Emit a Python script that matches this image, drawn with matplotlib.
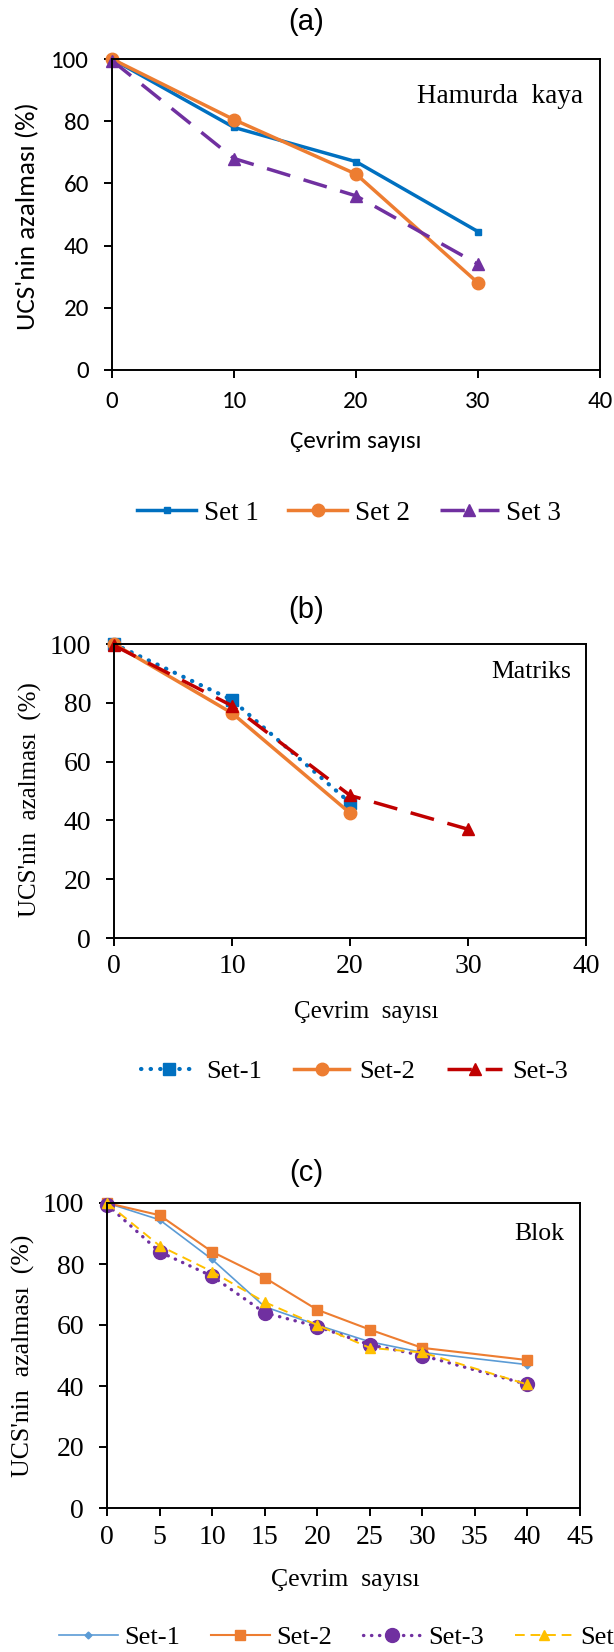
import matplotlib
matplotlib.use("Agg")
import matplotlib.pyplot as plt

# Panel (a) - Hamurda kaya
cycles_a = [0, 10, 20, 30]
set1_a = [100, 78, 67, 44.5]
set2_a = [100, 80.5, 63, 28]
set3_a = [99.5, 68, 56, 34]

# Panel (b) - Matriks
cycles_b12 = [0, 10, 20]
cycles_b3 = [0, 10, 20, 30]
set1_b = [100, 81, 46]
set2_b = [100, 76.5, 42.5]
set3_b = [99.5, 79, 48.5, 37]

# Panel (c) - Blok
cycles_c = [0, 5, 10, 15, 20, 25, 30, 40]
set1_c = [100, 94.5, 81.5, 66, 60, 54.5, 51, 47]
set2_c = [100, 96, 84, 75.5, 65, 58.5, 52.5, 48.5]
set3_c = [99.5, 84, 76, 64, 59.5, 53.5, 50, 40.5]
set4_c = [100, 86, 77.5, 67.5, 60, 52.5, 51, 40.5]

W, H = 614, 1652
fig = plt.figure(figsize=(W / 100, H / 100), dpi=100)

SANS = ["Carlito", "Lato", "DejaVu Sans"]   # Calibri look-alike if present
SERIF = ["Liberation Serif", "DejaVu Serif"]
ARIAL = ["Liberation Sans", "DejaVu Sans"]

tick_fonts = []  # (axes, family) pairs, applied again after the first draw


def ax_at(left, top, right, bottom):
    # pixel box -> figure fraction
    return fig.add_axes([left / W, 1 - bottom / H, (right - left) / W, (bottom - top) / H])


def px_text(x, y, s, **kw):
    # text centred on a pixel position of the figure
    return fig.text(x / W, 1 - y / H, s, ha="center", va="center", **kw)


def style_axes(ax, xmax, xstep, font, size, xpad):
    ax.set_ylim(0, 100)
    ax.set_xlim(0, xmax)
    ax.set_yticks(range(0, 101, 20))
    ax.set_xticks(range(0, xmax + 1, xstep))
    for s in ax.spines.values():
        s.set_linewidth(1.4)
    ax.tick_params(direction="out", length=5.5, width=1.4, labelsize=size,
                   labelfontfamily=font)
    ax.tick_params(axis="y", pad=11)
    ax.tick_params(axis="x", pad=xpad)
    tick_fonts.append((ax, font))


def add_legend(ax, x0, y0, ncol, size, hl, htp, cs):
    fig.legend(*ax.get_legend_handles_labels(), loc="center left",
               bbox_to_anchor=(x0 / W, 1 - y0 / H), ncol=ncol, frameon=False,
               prop={"family": SERIF, "size": size}, handlelength=hl,
               handletextpad=htp, columnspacing=cs, borderpad=0, borderaxespad=0,
               numpoints=1)


# ---------- (a) ----------
ax = ax_at(112, 59, 600, 370)
ax.plot(cycles_a, set1_a, color="#0070C0", lw=2.5, marker="s", ms=4.5, label="Set 1", clip_on=False)
ax.plot(cycles_a, set2_a, color="#ED7D31", lw=2.5, marker="o", ms=9, label="Set 2", clip_on=False)
ax.plot(cycles_a, set3_a, color="#7030A0", lw=2.5, marker="^", ms=9, dashes=(7, 4), label="Set 3", clip_on=False)
style_axes(ax, 40, 10, SANS, 18, 9.5)
px_text(356, 441, "Çevrim sayısı", fontfamily=SANS, fontsize=18)
px_text(27.5, 216, "UCS'nin azalması (%)", fontfamily=SANS, fontsize=19.5, rotation=90)
ax.text(0.965, 0.879, "Hamurda  kaya", transform=ax.transAxes, ha="right", va="center",
        fontfamily=SERIF, fontsize=19.5)
px_text(306, 22, "(a)", fontfamily=ARIAL, fontsize=21)
add_legend(ax, 137, 513, 3, 19.5, 2.18, 0.28, 1.1)

# ---------- (b) ----------
ax = ax_at(114, 644, 586, 938)
ax.plot(cycles_b12, set1_b, color="#0070C0", lw=3, marker="s", ms=8, linestyle=(0, (0.1, 2.2)),
        dash_capstyle="round", label="Set-1", clip_on=False)
ax.plot(cycles_b12, set2_b, color="#ED7D31", lw=2.5, marker="o", ms=9, label="Set-2", clip_on=False)
ax.plot(cycles_b3, set3_b, color="#C00000", lw=2.5, marker="^", ms=9, dashes=(7, 4), label="Set-3", clip_on=False)
style_axes(ax, 40, 10, SERIF, 20, 6)
px_text(366, 1012, "Çevrim  sayısı", fontfamily=SERIF, fontsize=18)
px_text(30, 800, "UCS'nin  azalması  (%)", fontfamily=SERIF, fontsize=18, rotation=90)
ax.text(0.969, 0.905, "Matriks", transform=ax.transAxes, ha="right", va="center",
        fontfamily=SERIF, fontsize=18.5)
px_text(306, 610, "(b)", fontfamily=ARIAL, fontsize=21)
add_legend(ax, 141, 1071, 3, 19, 2.1, 0.38, 1.2)

# ---------- (c) ----------
ax = ax_at(107, 1203, 580, 1508)
ax.plot(cycles_c, set1_c, color="#5B9BD5", lw=1.2, marker="D", ms=3.5, label="Set-1", clip_on=False)
ax.plot(cycles_c, set2_c, color="#ED7D31", lw=1.5, marker="s", ms=6.5, label="Set-2", clip_on=False)
ax.plot(cycles_c, set3_c, color="#7030A0", lw=2.4, marker="o", ms=10, linestyle=(0, (0.1, 2.3)),
        dash_capstyle="round", label="Set-3", clip_on=False)
ax.plot(cycles_c, set4_c, color="#FFC000", lw=1.4, marker="^", ms=7.5, dashes=(5, 3), label="Set-4", clip_on=False)
style_axes(ax, 45, 5, SERIF, 20, 7)
px_text(345, 1580, "Çevrim  sayısı", fontfamily=SERIF, fontsize=18.5)
px_text(23.5, 1356, "UCS'nin  azalması  (%)", fontfamily=SERIF, fontsize=18.5, rotation=90)
ax.text(0.966, 0.90, "Blok", transform=ax.transAxes, ha="right", va="center",
        fontfamily=SERIF, fontsize=18.5)
px_text(306, 1173, "(c)", fontfamily=ARIAL, fontsize=21)
add_legend(ax, 59, 1637, 4, 19, 2.23, 0.26, 1.15)

# ticks are built lazily, so set the tick label family once they exist
fig.canvas.draw()
for a, fam in tick_fonts:
    for lab in a.get_xticklabels() + a.get_yticklabels():
        lab.set_fontfamily(fam)

fig.savefig("out.png", dpi=100)
